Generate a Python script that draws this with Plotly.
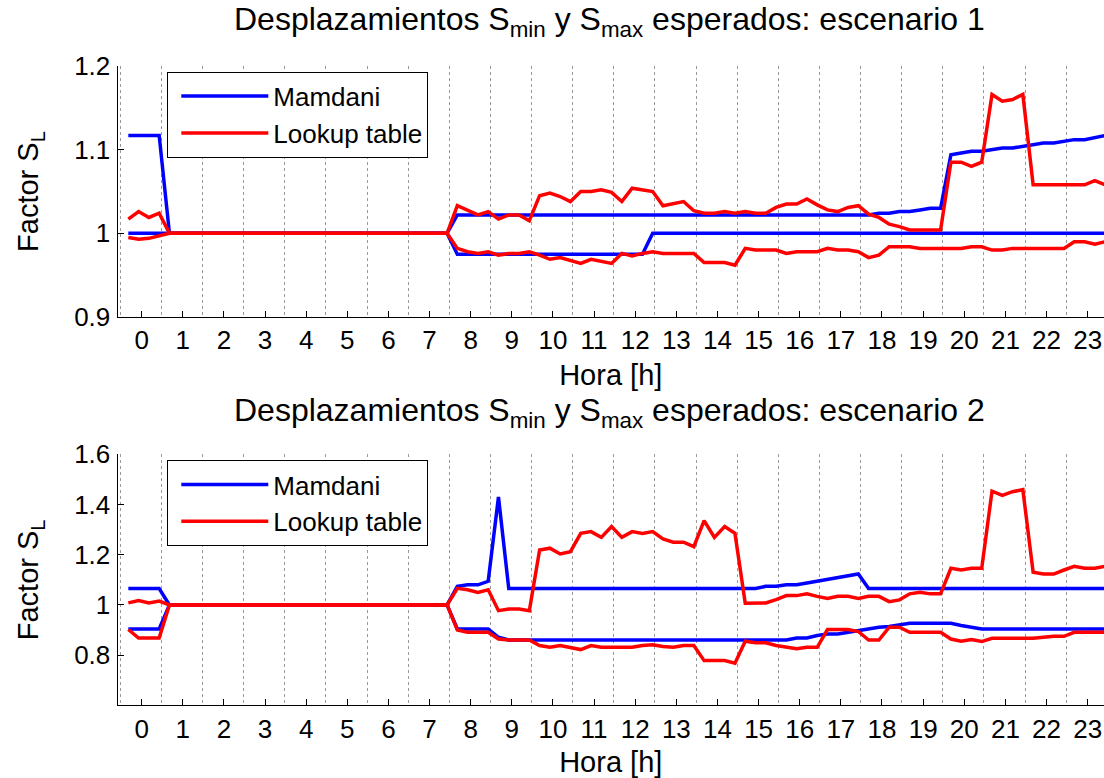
import plotly.graph_objects as go

# ---------------- data (15-min samples, 96 per day) ----------------
hour_ticks = list(range(24))
hour_labels = [str(h) for h in hour_ticks]
hours = [-0.325 + 0.25 * i for i in range(96)]

# Scenario 1
mamdani_max_1 = [
    1.117, 1.117, 1.117, 1.117, 1.0, 1.0, 1.0, 1.0,
    1.0, 1.0, 1.0, 1.0, 1.0, 1.0, 1.0, 1.0,
    1.0, 1.0, 1.0, 1.0, 1.0, 1.0, 1.0, 1.0,
    1.0, 1.0, 1.0, 1.0, 1.0, 1.0, 1.0, 1.0,
    1.022, 1.022, 1.022, 1.022, 1.022, 1.022, 1.022, 1.022,
    1.022, 1.022, 1.022, 1.022, 1.022, 1.022, 1.022, 1.022,
    1.022, 1.022, 1.022, 1.022, 1.022, 1.022, 1.022, 1.022,
    1.022, 1.022, 1.022, 1.022, 1.022, 1.022, 1.022, 1.022,
    1.022, 1.022, 1.022, 1.022, 1.022, 1.022, 1.022, 1.022,
    1.022, 1.024, 1.024, 1.026, 1.026, 1.028, 1.030, 1.030,
    1.094, 1.096, 1.098, 1.098, 1.100, 1.102, 1.102, 1.104,
    1.106, 1.108, 1.108, 1.110, 1.112, 1.112, 1.114, 1.117,
]
mamdani_min_1 = [
    1.0, 1.0, 1.0, 1.0, 1.0, 1.0, 1.0, 1.0,
    1.0, 1.0, 1.0, 1.0, 1.0, 1.0, 1.0, 1.0,
    1.0, 1.0, 1.0, 1.0, 1.0, 1.0, 1.0, 1.0,
    1.0, 1.0, 1.0, 1.0, 1.0, 1.0, 1.0, 1.0,
    0.975, 0.975, 0.975, 0.975, 0.975, 0.975, 0.975, 0.975,
    0.975, 0.975, 0.975, 0.975, 0.975, 0.975, 0.975, 0.975,
    0.975, 0.975, 0.975, 1.0, 1.0, 1.0, 1.0, 1.0,
    1.0, 1.0, 1.0, 1.0, 1.0, 1.0, 1.0, 1.0,
    1.0, 1.0, 1.0, 1.0, 1.0, 1.0, 1.0, 1.0,
    1.0, 1.0, 1.0, 1.0, 1.0, 1.0, 1.0, 1.0,
    1.0, 1.0, 1.0, 1.0, 1.0, 1.0, 1.0, 1.0,
    1.0, 1.0, 1.0, 1.0, 1.0, 1.0, 1.0, 1.0,
]
lookup_max_1 = [
    1.017, 1.026, 1.019, 1.024, 1.0, 1.0, 1.0, 1.0,
    1.0, 1.0, 1.0, 1.0, 1.0, 1.0, 1.0, 1.0,
    1.0, 1.0, 1.0, 1.0, 1.0, 1.0, 1.0, 1.0,
    1.0, 1.0, 1.0, 1.0, 1.0, 1.0, 1.0, 1.0,
    1.033, 1.027, 1.022, 1.026, 1.017, 1.022, 1.022, 1.015,
    1.045, 1.048, 1.044, 1.038, 1.050, 1.050, 1.052, 1.049,
    1.038, 1.054, 1.052, 1.050, 1.033, 1.035, 1.038, 1.027,
    1.024, 1.024, 1.026, 1.024, 1.026, 1.024, 1.024, 1.031,
    1.035, 1.035, 1.041, 1.034, 1.028, 1.026, 1.031, 1.033,
    1.023, 1.019, 1.011, 1.008, 1.004, 1.004, 1.004, 1.004,
    1.085, 1.085, 1.080, 1.085, 1.166, 1.158, 1.160, 1.166,
    1.058, 1.058, 1.058, 1.058, 1.058, 1.058, 1.063, 1.058,
]
lookup_min_1 = [
    0.995, 0.993, 0.994, 0.997, 1.0, 1.0, 1.0, 1.0,
    1.0, 1.0, 1.0, 1.0, 1.0, 1.0, 1.0, 1.0,
    1.0, 1.0, 1.0, 1.0, 1.0, 1.0, 1.0, 1.0,
    1.0, 1.0, 1.0, 1.0, 1.0, 1.0, 1.0, 1.0,
    0.982, 0.978, 0.976, 0.978, 0.974, 0.976, 0.976, 0.978,
    0.974, 0.969, 0.971, 0.968, 0.964, 0.969, 0.967, 0.964,
    0.976, 0.973, 0.976, 0.978, 0.976, 0.976, 0.976, 0.976,
    0.965, 0.965, 0.965, 0.962, 0.982, 0.980, 0.980, 0.980,
    0.976, 0.978, 0.978, 0.978, 0.982, 0.980, 0.980, 0.978,
    0.971, 0.974, 0.984, 0.984, 0.984, 0.982, 0.982, 0.982,
    0.982, 0.982, 0.984, 0.984, 0.980, 0.980, 0.982, 0.982,
    0.982, 0.982, 0.982, 0.982, 0.990, 0.990, 0.987, 0.990,
]

# Scenario 2
mamdani_max_2 = [
    1.065, 1.065, 1.065, 1.065, 1.0, 1.0, 1.0, 1.0,
    1.0, 1.0, 1.0, 1.0, 1.0, 1.0, 1.0, 1.0,
    1.0, 1.0, 1.0, 1.0, 1.0, 1.0, 1.0, 1.0,
    1.0, 1.0, 1.0, 1.0, 1.0, 1.0, 1.0, 1.0,
    1.074, 1.080, 1.080, 1.094, 1.430, 1.065, 1.065, 1.065,
    1.065, 1.065, 1.065, 1.065, 1.065, 1.065, 1.065, 1.065,
    1.065, 1.065, 1.065, 1.065, 1.065, 1.065, 1.065, 1.065,
    1.065, 1.065, 1.065, 1.065, 1.065, 1.065, 1.074, 1.074,
    1.080, 1.080, 1.087, 1.094, 1.100, 1.107, 1.114, 1.123,
    1.065, 1.065, 1.065, 1.065, 1.065, 1.065, 1.065, 1.065,
    1.065, 1.065, 1.065, 1.065, 1.065, 1.065, 1.065, 1.065,
    1.065, 1.065, 1.065, 1.065, 1.065, 1.065, 1.065, 1.065,
]
mamdani_min_2 = [
    0.904, 0.904, 0.904, 0.904, 1.0, 1.0, 1.0, 1.0,
    1.0, 1.0, 1.0, 1.0, 1.0, 1.0, 1.0, 1.0,
    1.0, 1.0, 1.0, 1.0, 1.0, 1.0, 1.0, 1.0,
    1.0, 1.0, 1.0, 1.0, 1.0, 1.0, 1.0, 1.0,
    0.904, 0.904, 0.904, 0.904, 0.871, 0.860, 0.860, 0.860,
    0.860, 0.860, 0.860, 0.860, 0.860, 0.860, 0.860, 0.860,
    0.860, 0.860, 0.860, 0.860, 0.860, 0.860, 0.860, 0.860,
    0.860, 0.860, 0.860, 0.860, 0.860, 0.860, 0.860, 0.860,
    0.860, 0.868, 0.868, 0.878, 0.884, 0.884, 0.891, 0.898,
    0.907, 0.911, 0.914, 0.922, 0.927, 0.927, 0.927, 0.927,
    0.927, 0.918, 0.911, 0.904, 0.904, 0.904, 0.904, 0.904,
    0.904, 0.904, 0.904, 0.904, 0.904, 0.904, 0.904, 0.904,
]
lookup_max_2 = [
    1.008, 1.017, 1.008, 1.015, 1.0, 1.0, 1.0, 1.0,
    1.0, 1.0, 1.0, 1.0, 1.0, 1.0, 1.0, 1.0,
    1.0, 1.0, 1.0, 1.0, 1.0, 1.0, 1.0, 1.0,
    1.0, 1.0, 1.0, 1.0, 1.0, 1.0, 1.0, 1.0,
    1.066, 1.060, 1.050, 1.060, 0.977, 0.984, 0.984, 0.977,
    1.219, 1.226, 1.203, 1.212, 1.285, 1.292, 1.269, 1.312,
    1.269, 1.292, 1.285, 1.292, 1.263, 1.250, 1.250, 1.232,
    1.336, 1.269, 1.312, 1.285, 1.007, 1.007, 1.008, 1.021,
    1.037, 1.037, 1.044, 1.034, 1.026, 1.034, 1.034, 1.026,
    1.034, 1.034, 1.013, 1.020, 1.044, 1.050, 1.044, 1.044,
    1.146, 1.139, 1.146, 1.146, 1.453, 1.436, 1.451, 1.459,
    1.130, 1.123, 1.123, 1.139, 1.154, 1.146, 1.146, 1.154,
]
lookup_min_2 = [
    0.902, 0.868, 0.868, 0.868, 1.0, 1.0, 1.0, 1.0,
    1.0, 1.0, 1.0, 1.0, 1.0, 1.0, 1.0, 1.0,
    1.0, 1.0, 1.0, 1.0, 1.0, 1.0, 1.0, 1.0,
    1.0, 1.0, 1.0, 1.0, 1.0, 1.0, 1.0, 1.0,
    0.900, 0.891, 0.891, 0.891, 0.864, 0.860, 0.860, 0.860,
    0.838, 0.831, 0.838, 0.829, 0.822, 0.838, 0.831, 0.831,
    0.831, 0.831, 0.838, 0.841, 0.834, 0.831, 0.838, 0.838,
    0.778, 0.778, 0.778, 0.768, 0.855, 0.849, 0.849, 0.838,
    0.831, 0.825, 0.831, 0.831, 0.902, 0.902, 0.902, 0.894,
    0.860, 0.860, 0.911, 0.911, 0.891, 0.891, 0.891, 0.891,
    0.864, 0.855, 0.862, 0.854, 0.867, 0.867, 0.867, 0.867,
    0.867, 0.871, 0.875, 0.875, 0.891, 0.891, 0.891, 0.891,
]

y1_ticks = [0.9, 1.0, 1.1, 1.2]
y1_labels = ["0.9", "1", "1.1", "1.2"]
y2_ticks = [0.8, 1.0, 1.2, 1.4, 1.6]
y2_labels = ["0.8", "1", "1.2", "1.4", "1.6"]

titles = [
    "Desplazamientos S<sub>min</sub> y S<sub>max</sub> esperados: escenario 1",
    "Desplazamientos S<sub>min</sub> y S<sub>max</sub> esperados: escenario 2",
]

# ---------------- figure ----------------
W, H = 1104, 778
FONT = "Liberation Sans, Arial, Helvetica, sans-serif"
BLUE = "#0000ff"
RED = "#ff0000"
LW = 3.5


def py(p):
    return 1 - p / H


fig = go.Figure()

panels = [
    ("x", "y", "legend", mamdani_max_1, mamdani_min_1, lookup_max_1, lookup_min_1),
    ("x2", "y2", "legend2", mamdani_max_2, mamdani_min_2, lookup_max_2, lookup_min_2),
]
for xa, ya, lg, mmax, mmin, lmax, lmin in panels:
    for vals, name, color, show in [
        (mmax, "Mamdani", BLUE, True),
        (mmin, "Mamdani", BLUE, False),
        (lmax, "Lookup table", RED, True),
        (lmin, "Lookup table", RED, False),
    ]:
        fig.add_trace(go.Scatter(
            x=hours, y=vals, mode="lines", name=name,
            line=dict(color=color, width=LW),
            xaxis=xa, yaxis=ya, legend=lg, legendgroup=name + lg,
            showlegend=show, hoverinfo="skip",
        ))

x_left = 117.5 / W
xrange_ = [-0.588, 23.398]

common_x = dict(
    range=xrange_, domain=[x_left, 1.0],
    tickmode="array", tickvals=hour_ticks, ticktext=hour_labels,
    ticks="inside", ticklen=6, tickwidth=1, tickcolor="#000000",
    showline=True, linecolor="#000000", linewidth=1,
    showgrid=False, zeroline=False,
    tickfont=dict(family=FONT, size=26, color="#000000"),
    minor=dict(tick0=0.48, dtick=1, showgrid=True, gridcolor="#9a9a9a",
               griddash="dot", gridwidth=1, ticks=""),
    title=dict(text="Hora [h]", font=dict(family=FONT, size=29, color="#000000"), standoff=10),
    ticklabelstandoff=0,
)
common_y = dict(
    tickmode="array",
    ticks="inside", ticklen=6, tickwidth=1, tickcolor="#000000",
    showline=True, linecolor="#000000", linewidth=1,
    showgrid=False, zeroline=False,
    tickfont=dict(family=FONT, size=26, color="#000000"),
    title=dict(text="Factor S<sub>L</sub>", font=dict(family=FONT, size=29, color="#000000"), standoff=26),
    ticklabelstandoff=1,
)

legend_common = dict(
    xanchor="left", yanchor="top",
    bgcolor="white", bordercolor="#000000", borderwidth=1,
    font=dict(family=FONT, size=26, color="#000000"),
    itemwidth=87, indentation=8, tracegroupgap=0,
)

fig.update_layout(
    width=W, height=H,
    margin=dict(l=0, r=0, t=0, b=0, autoexpand=False),
    paper_bgcolor="white", plot_bgcolor="white",
    font=dict(family=FONT, color="#000000"),
    xaxis=dict(common_x, anchor="y"),
    xaxis2=dict(common_x, anchor="y2"),
    yaxis=dict(common_y, anchor="x", domain=[py(317), py(66)], range=[0.9, 1.2],
               tickvals=y1_ticks, ticktext=y1_labels),
    yaxis2=dict(common_y, anchor="x2", domain=[py(705.3), py(454.3)], range=[0.6, 1.6],
                tickvals=y2_ticks, ticktext=y2_labels),
    legend=dict(legend_common, x=167.3 / W, y=py(71.7)),
    legend2=dict(legend_common, x=167.3 / W, y=py(460)),
    showlegend=True,
)

for txt, ypix in [(titles[0], 22), (titles[1], 412)]:
    fig.add_annotation(text=txt, xref="paper", yref="paper", x=609 / W, y=py(ypix),
                       xanchor="center", yanchor="middle", showarrow=False,
                       font=dict(family=FONT, size=32, color="#000000"))

fig.write_html("out.html", config={"displayModeBar": False},
               post_script="document.body.style.margin='0';")
